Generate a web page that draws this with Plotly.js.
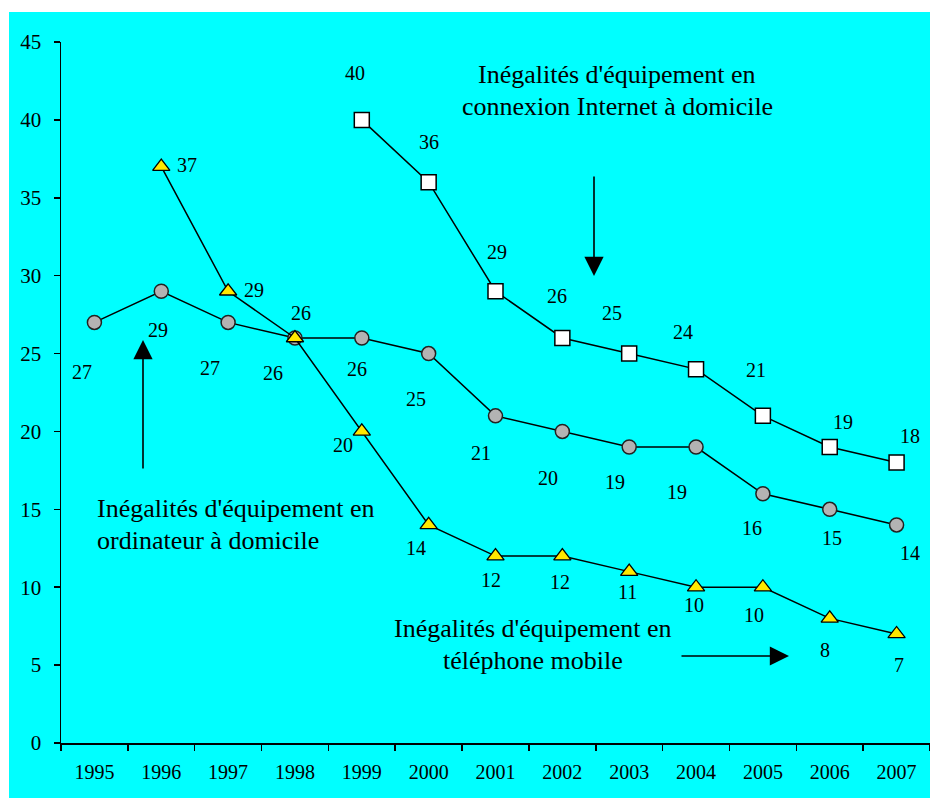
<!DOCTYPE html>
<html>
<head>
<meta charset="utf-8">
<script src="https://cdn.plot.ly/plotly-3.0.1.min.js"></script>
<style>html,body{margin:0;padding:0;background:#fff;}#chart{width:930px;height:798px;}</style>
</head>
<body>
<div id="chart"></div>
<script>
// ---- data ----
const years = ["1995","1996","1997","1998","1999","2000","2001","2002","2003","2004","2005","2006","2007"];
const ordinateurYears = years;
const ordinateurValues = [27, 29, 27, 26, 26, 25, 21, 20, 19, 19, 16, 15, 14];
const mobileYears = ["1996","1997","1998","1999","2000","2001","2002","2003","2004","2005","2006","2007"];
const mobileValues = [37, 29, 26, 20, 14, 12, 12, 11, 10, 10, 8, 7];
const internetYears = ["1999","2000","2001","2002","2003","2004","2005","2006","2007"];
const internetValues = [40, 36, 29, 26, 25, 24, 21, 19, 18];
const yTicks = [0, 5, 10, 15, 20, 25, 30, 35, 40, 45];
const seriesNotes = {
  internet: ["Inégalités d'équipement en", "connexion Internet à domicile"],
  ordinateur: ["Inégalités d'équipement en", "ordinateur à domicile"],
  mobile: ["Inégalités d'équipement en", "téléphone mobile"]
};

// ---- label offsets (pixels, dx right, dy down) ----
const ordLabelDx = [-12, -3, -18, -22, -5, -13, -15, -14, -14, -19, -11, 2, 13];
const ordLabelDy = [50, 39, 46, 35, 31, 45, 37, 47, 35, 45, 34, 29, 28];
const mobLabelDx = [26, 26, 6, -19, -13, -5, -2, -2, -2, -9, -5, 2];
const mobLabelDy = [-2, -1, -25, 14, 23, 24, 26, 20, 18, 28, 32, 31];
const intLabelDx = [-7, 0, 1, -5, -17, -13, -7, 13, 13];
const intLabelDy = [-47, -40, -39, -42, -41, -37, -46, -25, -27];

const FONT = '"Liberation Serif", "Times New Roman", serif';

const traces = [
  {
    x: ordinateurYears, y: ordinateurValues, type: 'scatter', mode: 'lines+markers',
    line: {color: '#000', width: 1.5},
    marker: {symbol: 'circle', size: 14, color: '#b3b3b3', line: {color: '#222', width: 1.5}},
    hoverinfo: 'skip', cliponaxis: false
  },
  {
    x: mobileYears, y: mobileValues, type: 'scatter', mode: 'lines+markers',
    line: {color: '#000', width: 1.5},
    marker: {symbol: 'triangle-up', size: 15, color: '#ffe800', line: {color: '#000', width: 1.3}},
    hoverinfo: 'skip', cliponaxis: false
  },
  {
    x: internetYears, y: internetValues, type: 'scatter', mode: 'lines+markers',
    line: {color: '#000', width: 1.5},
    marker: {symbol: 'square', size: 15, color: '#ffffff', line: {color: '#000', width: 1.5}},
    hoverinfo: 'skip', cliponaxis: false
  }
];

const annotations = [];
function addLabels(xs, ys, dxs, dys) {
  xs.forEach((x, i) => {
    annotations.push({
      x: years.indexOf(x), y: ys[i], xref: 'x', yref: 'y', text: String(ys[i]), showarrow: false,
      xshift: dxs[i], yshift: -dys[i],
      font: {family: FONT, size: 20, color: '#000'}
    });
  });
}
addLabels(ordinateurYears, ordinateurValues, ordLabelDx, ordLabelDy);
addLabels(mobileYears, mobileValues, mobLabelDx, mobLabelDy);
addLabels(internetYears, internetValues, intLabelDx, intLabelDy);

// helper: pixel -> paper
const L = 61, T = 42, W = 869, H = 701;
const px = v => (v - L) / W;
const py = v => (T + H - v) / H;

function noteLine(text, xp, yp, anchor) {
  annotations.push({
    x: px(xp), y: py(yp), xref: 'paper', yref: 'paper', text: text, showarrow: false,
    xanchor: anchor, yanchor: 'middle',
    font: {family: FONT, size: 26, color: '#000'}
  });
}
noteLine(seriesNotes.internet[0], 617, 75, 'center');
noteLine(seriesNotes.internet[1], 617, 107, 'center');
noteLine(seriesNotes.ordinateur[0], 95, 508, 'left');
noteLine(seriesNotes.ordinateur[1], 95, 540, 'left');
noteLine(seriesNotes.mobile[0], 533, 628, 'center');
noteLine(seriesNotes.mobile[1], 533, 660, 'center');

function arrow(tipX, tipY, ax, ay) {
  annotations.push({
    x: px(tipX), y: py(tipY), xref: 'paper', yref: 'paper', text: '',
    showarrow: true, ax: ax, ay: ay, axref: 'pixel', ayref: 'pixel',
    arrowhead: 2, arrowsize: 2.4, arrowwidth: 1.6, arrowcolor: '#000', standoff: 0
  });
}
arrow(594, 276, 0, -101);
arrow(143, 340, 0, 130);
arrow(789, 656, -109, 0);

const layout = {
  width: 930, height: 798,
  margin: {l: 61, r: 0, t: 42, b: 55},
  paper_bgcolor: '#00ffff',
  plot_bgcolor: '#00ffff',
  showlegend: false,
  font: {family: FONT, color: '#000'},
  xaxis: {
    type: 'category', categoryorder: 'array', categoryarray: years,
    range: [-0.5, 12.5], showgrid: false, zeroline: false,
    showline: true, linecolor: '#000', linewidth: 1.5,
    ticks: 'outside', tickson: 'boundaries', ticklen: 6, tickwidth: 1.5, tickcolor: '#000',
    ticklabelstandoff: 10,
    tickfont: {family: FONT, size: 20, color: '#000'}
  },
  yaxis: {
    range: [0, 45], tickvals: yTicks, ticktext: yTicks.map(String),
    showgrid: false, zeroline: false,
    showline: true, linecolor: '#000', linewidth: 1.5,
    ticks: 'outside', ticklen: 6, tickwidth: 1.5, tickcolor: '#000',
    ticklabelstandoff: 8,
    tickfont: {family: FONT, size: 21, color: '#000'}
  },
  shapes: [
    {type: 'rect', xref: 'paper', yref: 'paper', x0: px(0), x1: px(930), y0: py(0), y1: py(12),
     fillcolor: '#ffffff', line: {width: 0}, layer: 'above'},
    {type: 'rect', xref: 'paper', yref: 'paper', x0: px(0), x1: px(9), y0: py(798), y1: py(0),
     fillcolor: '#ffffff', line: {width: 0}, layer: 'above'}
  ],
  annotations: annotations
};

Plotly.newPlot('chart', traces, layout, {displayModeBar: false, staticPlot: true});
</script>
</body>
</html>
